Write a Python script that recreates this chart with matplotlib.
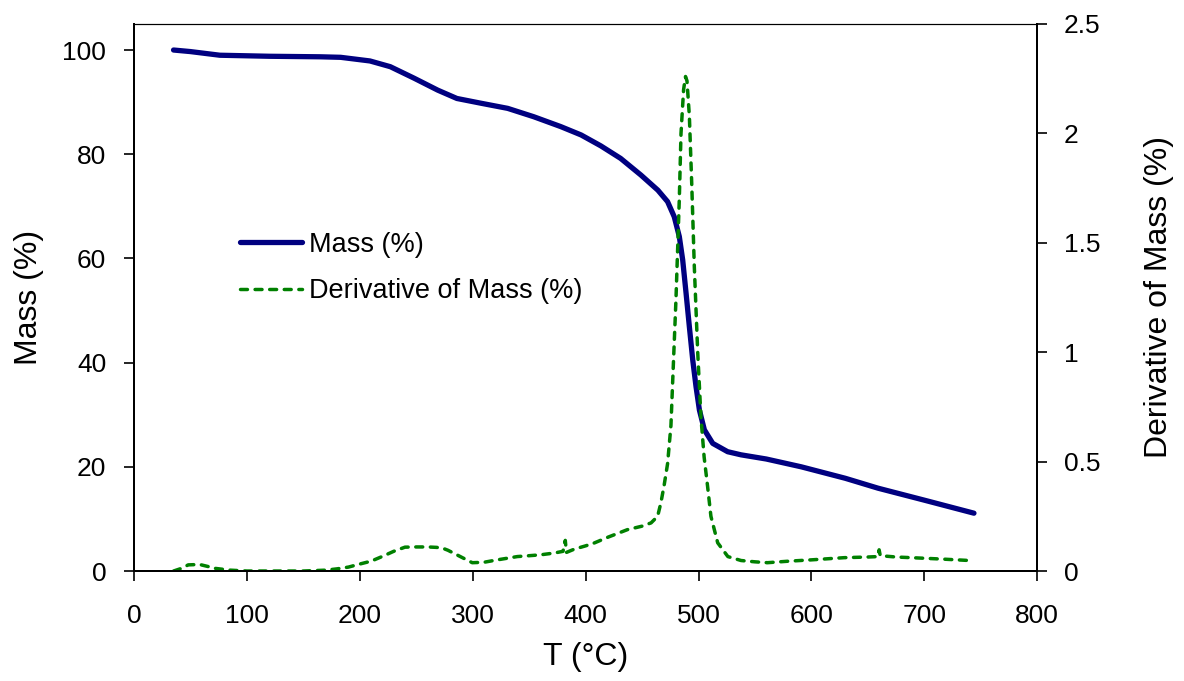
import numpy as np
import matplotlib
matplotlib.use("Agg")
import matplotlib.pyplot as plt
from matplotlib.ticker import FormatStrFormatter

# TGA curve: mass and its derivative against temperature
# -------------------------------------------------------

plt.rcParams['font.family'] = ['Liberation Sans', 'DejaVu Sans']

# Mass (%)
mass_T = [35, 50, 76, 120, 165, 183, 209, 227, 248, 269, 286, 307, 331, 354,
          378, 396, 413.5, 431, 449, 464, 472.6, 478.5, 483, 486, 489, 491.9,
          494.9, 497.8, 500.8, 505.2, 512.6, 525.8, 537.7, 560, 591, 630, 659,
          700, 744]
mass = [100, 99.7, 99.0, 98.8, 98.7, 98.6, 97.9, 96.8, 94.6, 92.3, 90.7, 89.8,
        88.8, 87.2, 85.3, 83.7, 81.6, 79.2, 76.0, 73.1, 70.9, 68.0, 64.2, 59.7,
        53.3, 46.9, 40.5, 35.4, 30.9, 27.1, 24.5, 22.9, 22.3, 21.5, 20.0, 17.8,
        15.9, 13.6, 11.1]

# Derivative of mass (%)
deriv_T = [35, 42, 48, 58, 66, 72, 85, 100, 130, 150, 170, 180, 190, 200, 210,
           221, 230, 240, 250, 260, 268, 273, 278, 289, 299.6, 310, 321.8,
           339.5, 350, 360, 372, 380, 382, 383, 390, 400, 407.6, 420, 437, 450,
           458, 463.8, 466.7, 469.5, 472.6, 475.6, 477, 480, 483, 484.5, 486.8,
           488.5, 489.8, 491.9, 494, 496.3, 499.3, 502.2, 505, 508, 511, 517,
           526, 537.7, 550, 561, 580, 600, 629, 650, 659, 660, 661, 675, 688.6,
           718, 740]
deriv = [0.0, 0.012, 0.028, 0.03, 0.02, 0.012, 0.004, 0.0, 0.0, 0.0, 0.004,
         0.01, 0.018, 0.032, 0.045, 0.069, 0.09, 0.109, 0.11, 0.11, 0.108,
         0.105, 0.095, 0.066, 0.038, 0.04, 0.051, 0.066, 0.07, 0.074, 0.082,
         0.09, 0.14, 0.085, 0.1, 0.115, 0.128, 0.155, 0.189, 0.205, 0.22, 0.25,
         0.312, 0.39, 0.49, 0.666, 0.85, 1.236, 1.70, 2.0, 2.20, 2.26, 2.24,
         2.08, 1.77, 1.39, 1.0, 0.70, 0.52, 0.389, 0.25, 0.129, 0.066, 0.048,
         0.042, 0.038, 0.045, 0.051, 0.061, 0.064, 0.066, 0.097, 0.07, 0.064,
         0.061, 0.054, 0.048]

x_ticks = np.arange(0, 801, 100)
mass_ticks = np.arange(0, 101, 20)
deriv_ticks = np.arange(0, 2.51, 0.5)

fig = plt.figure(figsize=(11.84, 6.81), dpi=100)
ax = fig.add_axes([0.1132, 0.1615, 0.7628, 0.8033])
ax2 = ax.twinx()

mass_line, = ax.plot(mass_T, mass, color='#000080', linewidth=3.8,
                     solid_capstyle='round', solid_joinstyle='round',
                     label='Mass (%)')
deriv_line, = ax2.plot(deriv_T, deriv, color='#008000', linewidth=2.5,
                       dashes=(2.0, 2.2), dash_capstyle='round',
                       label='Derivative of Mass (%)')

# axes ranges
ax.set_xlim(0, 800)
ax.set_ylim(0, 105)
ax2.set_ylim(0, 2.5)
ax.set_xticks(x_ticks)
ax.set_yticks(mass_ticks)
ax2.set_yticks(deriv_ticks)
ax2.yaxis.set_major_formatter(FormatStrFormatter('%g'))

# labels
ax.set_xlabel('T (\u00b0C)', fontsize=23, labelpad=10)
ax.set_ylabel('Mass (%)', fontsize=23)
ax2.set_ylabel('Derivative of Mass (%)', fontsize=23)
ax.yaxis.set_label_coords(-0.1, 0.5)
ax2.yaxis.set_label_coords(1.118, 0.5)

ax.tick_params(axis='x', direction='out', length=7, width=1.2, labelsize=19, pad=17, top=False)
ax.tick_params(axis='y', direction='out', length=7, width=1.2, labelsize=19, pad=13)
ax2.tick_params(axis='y', direction='out', length=7, width=1.2, labelsize=19, pad=12)

for a in (ax, ax2):
    for side in ('left', 'right', 'bottom'):
        a.spines[side].set_linewidth(1.4)
    a.spines['top'].set_linewidth(0.8)

ax.legend(handles=[mass_line, deriv_line], loc='upper left',
          bbox_to_anchor=(0.117, 0.62), frameon=False, fontsize=19.5,
          handlelength=2.3, handletextpad=0.25, labelspacing=0.75,
          borderaxespad=0, borderpad=0)

fig.savefig('out.png', dpi=100)
